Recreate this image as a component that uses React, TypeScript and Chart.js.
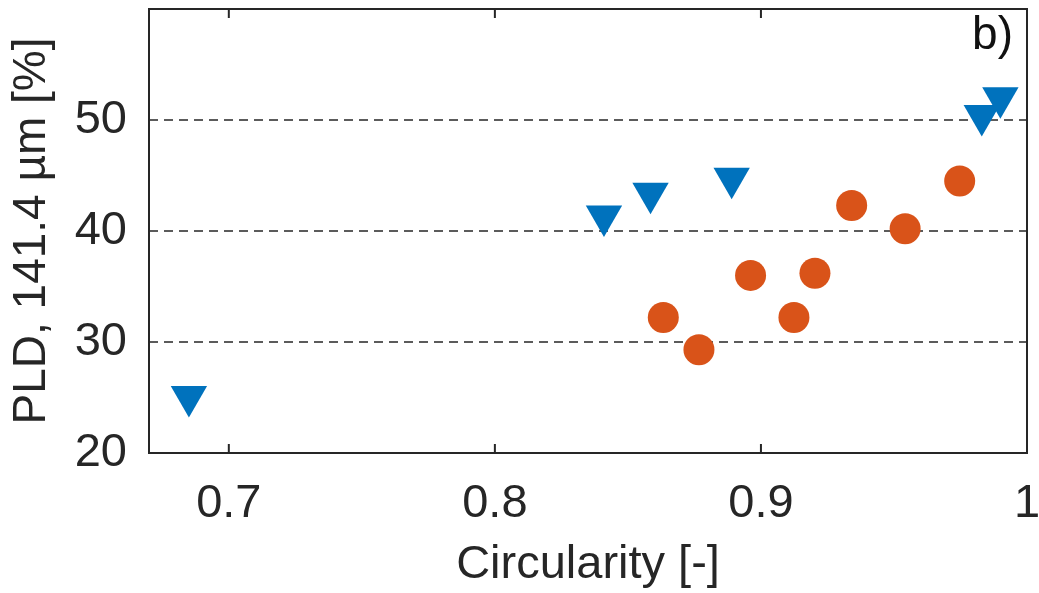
import React, { useEffect, useRef } from 'react';
import { Chart, registerables } from 'chart.js';

Chart.register(...registerables);

// Orange circles
const circleX = [0.8633, 0.8767, 0.8961, 0.9124, 0.9203, 0.9341, 0.9542, 0.9747];
const circleY = [32.2, 29.3, 36.0, 32.2, 36.2, 42.3, 40.2, 44.5];

// Blue down-triangles
const triX = [0.685, 0.841, 0.8585, 0.889, 0.983, 0.990];
const triY = [25.1, 41.35, 43.4, 44.75, 50.4, 52.0];

const xTicks = [0.7, 0.8, 0.9, 1];
const xTickLabels = ['0.7', '0.8', '0.9', '1'];
const yTicks = [20, 30, 40, 50];
const yTickLabels = ['20', '30', '40', '50'];
const gridYValues = [30, 40, 50];

const X_TITLE = 'Circularity [-]';
const Y_TITLE = 'PLD, 141.4 µm [%]';
const PANEL_LABEL = 'b)';

const FONT = '"Liberation Sans", Arial, Helvetica, sans-serif';
const TEXT_COLOR = '#262626';

const framePlugin = {
  id: 'frame',
  beforeDatasetsDraw(chart: any) {
    const { ctx, chartArea, scales } = chart;
    const { left, right, top, bottom } = chartArea;
    const x = scales.x;
    const y = scales.y;
    ctx.save();
    // dashed gridlines
    ctx.strokeStyle = TEXT_COLOR;
    ctx.lineWidth = 1.5;
    ctx.setLineDash([9, 6]);
    gridYValues.forEach((v) => {
      const py = y.getPixelForValue(v);
      ctx.beginPath();
      ctx.moveTo(left, py);
      ctx.lineTo(right, py);
      ctx.stroke();
    });
    ctx.setLineDash([]);
    // tick marks (inward, top and bottom)
    ctx.lineWidth = 2;
    xTicks.forEach((v) => {
      const px = x.getPixelForValue(v);
      ctx.beginPath();
      ctx.moveTo(px, bottom);
      ctx.lineTo(px, bottom - 9);
      ctx.moveTo(px, top);
      ctx.lineTo(px, top + 9);
      ctx.stroke();
    });
    // frame
    ctx.strokeRect(left, top, right - left, bottom - top);
    // panel label
    ctx.fillStyle = '#111111';
    ctx.font = `46px ${FONT}`;
    ctx.textAlign = 'right';
    ctx.textBaseline = 'alphabetic';
    ctx.fillText(PANEL_LABEL, right - 14, top + 40);
    ctx.restore();
  },
};

export default function App() {
  const canvasRef = useRef<HTMLCanvasElement | null>(null);

  useEffect(() => {
    document.body.style.margin = '0';
    const canvas = canvasRef.current;
    if (!canvas) return;
    const chart = new Chart(canvas, {
      type: 'scatter',
      data: {
        datasets: [
          {
            label: 'circles',
            data: circleX.map((v, i) => ({ x: v, y: circleY[i] })),
            pointStyle: 'circle',
            pointRadius: 15.5,
            pointHoverRadius: 15.5,
            backgroundColor: '#D95319',
            borderWidth: 0,
          },
          {
            label: 'triangles',
            data: triX.map((v, i) => ({ x: v, y: triY[i] })),
            pointStyle: 'triangle',
            pointRotation: 180,
            pointRadius: 21,
            pointHoverRadius: 21,
            backgroundColor: '#0072BD',
            borderWidth: 0,
          },
        ],
      },
      options: {
        responsive: true,
        maintainAspectRatio: false,
        animation: false,
        layout: { autoPadding: false, padding: { top: 9, right: 12, left: 0, bottom: 0 } },
        plugins: {
          legend: { display: false },
          tooltip: { enabled: false },
        },
        scales: {
          x: {
            type: 'linear',
            min: 0.67,
            max: 1.0,
            grid: { display: false, drawTicks: false },
            border: { display: false },
            afterBuildTicks: (axis: any) => {
              axis.ticks = xTicks.map((v) => ({ value: v }));
            },
            afterFit: (axis: any) => {
              axis.height = 140;
              axis.paddingLeft = 0;
              axis.paddingRight = 0;
              axis.paddingTop = 0;
              axis.paddingBottom = 0;
            },
            ticks: {
              padding: 23,
              color: TEXT_COLOR,
              font: { family: FONT, size: 47, lineHeight: 1.2 },
              maxRotation: 0,
              autoSkip: false,
              callback: (_v: any, i: number) => xTickLabels[i],
            },
            title: {
              display: true,
              text: X_TITLE,
              color: TEXT_COLOR,
              font: { family: FONT, size: 47, lineHeight: 1.2 },
              padding: { top: 0, bottom: 0 },
            },
          },
          y: {
            type: 'linear',
            min: 20,
            max: 60,
            grid: { display: false, drawTicks: false },
            border: { display: false },
            afterBuildTicks: (axis: any) => {
              axis.ticks = yTicks.map((v) => ({ value: v }));
            },
            afterFit: (axis: any) => {
              axis.width = 149;
              axis.paddingLeft = 0;
              axis.paddingRight = 0;
              axis.paddingTop = 0;
              axis.paddingBottom = 0;
            },
            ticks: {
              padding: 22,
              color: TEXT_COLOR,
              font: { family: FONT, size: 47, lineHeight: 1.2 },
              autoSkip: false,
              callback: (_v: any, i: number) => yTickLabels[i],
            },
            title: {
              display: true,
              text: Y_TITLE,
              color: TEXT_COLOR,
              font: { family: FONT, size: 46, lineHeight: 1.2 },
              padding: { top: 5, bottom: 0 },
            },
          },
        },
      },
      plugins: [framePlugin],
    });
    return () => chart.destroy();
  }, []);

  return (
    <div style={{ width: 1039, height: 593, position: 'relative', background: '#ffffff' }}>
      <canvas ref={canvasRef} />
    </div>
  );
}
